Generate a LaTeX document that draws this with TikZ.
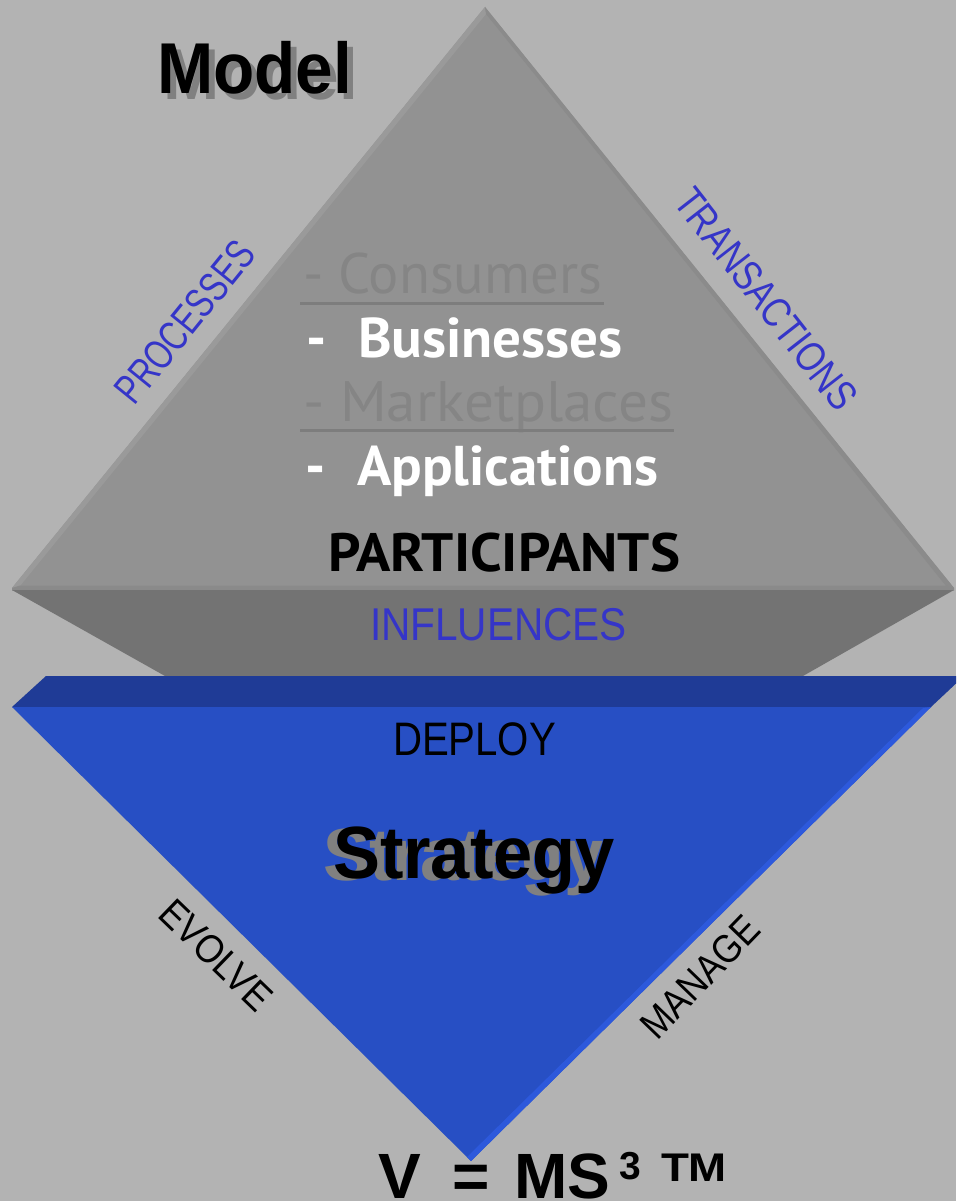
\documentclass[tikz,border=0pt]{standalone}
\usepackage{fontspec}
\setmainfont{Liberation Sans}
\newfontfamily\pts{PT Sans}
\newcommand{\fitw}[2]{\resizebox{#1}{\height}{#2}}
\definecolor{bg}{HTML}{B3B3B3}
\definecolor{tri}{HTML}{929292}
\definecolor{trilight}{HTML}{9A9A9A}
\definecolor{tridark}{HTML}{8B8B8B}
\definecolor{baseband}{HTML}{8A8A8A}
\definecolor{trap}{HTML}{737373}
\definecolor{slab}{HTML}{1F3B96}
\definecolor{bluetri}{HTML}{274FC4}
\definecolor{bluelight}{HTML}{2D59DC}
\definecolor{lblue}{HTML}{3535C8}
\definecolor{gtext}{HTML}{858585}
\definecolor{uline}{HTML}{7D7D7D}
\definecolor{shadow}{HTML}{808080}
\begin{document}
\begin{tikzpicture}[x=1pt,y=-1pt,
  txt/.style={inner sep=0pt, outer sep=0pt, anchor=base west},
  lbl/.style={inner sep=0pt, outer sep=0pt, anchor=center},
  underl/.style={draw=uline, line width=3pt}]
\useasboundingbox (0,0) rectangle (956,1201);
\fill[bg] (0,0) rectangle (956,1201);
\begin{scope}
\clip (0,0) rectangle (956,1201);
% upper triangle
\fill[tri] (12,588) -- (485,7) -- (954,588) -- cycle;
\fill[trilight] (12,588) -- (485,7) -- (486,14) -- (20,586) -- cycle;
\fill[tridark] (485,7) -- (954,588) -- (946,586) -- (486,14) -- cycle;
\fill[baseband] (12,588) -- (20,585.5) -- (946,585.5) -- (954,588) -- (954,590.5) -- (12,590.5) -- cycle;
% dark trapezoid
\fill[trap] (12,590) -- (954,590) -- (803,676) -- (165,676) -- cycle;
% blue slab
\fill[slab] (46,676) -- (964,676) -- (931,707) -- (12,707) -- cycle;
% blue inverted triangle
\fill[bluetri] (12,707) -- (931,707) -- (471,1161) -- cycle;
\fill[bluelight] (931,707) -- (471,1161) -- (467,1157) -- (923,708) -- cycle;
\end{scope}
% Model
\node[txt, text=shadow] (models) at (163,100) {\fontsize{72}{80}\selectfont\bfseries\fitw{195pt}{Model}};
\node[txt, text=black] (model) at (157,94) {\fontsize{72}{80}\selectfont\bfseries\fitw{195pt}{Model}};
% side labels
\node[lbl, rotate=51, text=lblue] (proc) at (185,322) {\fontsize{42}{44}\selectfont\fitw{195pt}{PROCESSES}};
\node[lbl, rotate=-52, text=lblue] (trans) at (766,299) {\fontsize{42}{44}\selectfont\fitw{268pt}{TRANSACTIONS}};
% participant list
\node[txt, text=gtext] (cons) at (303,293) {\pts\fontsize{57}{60}\selectfont\fitw{299pt}{- Consumers}};
\draw[underl] (300,303) -- (604,303);
\node[txt, text=white] (bdash) at (306,357) {\pts\bfseries\fontsize{56}{60}\selectfont -};
\node[txt, text=white] (bus) at (358,357) {\pts\bfseries\fontsize{56}{60}\selectfont\fitw{265pt}{Businesses}};
\node[txt, text=gtext] (mkt) at (303,421) {\pts\fontsize{57}{60}\selectfont\fitw{370pt}{- Marketplaces}};
\draw[underl] (300,430) -- (674,430);
\node[txt, text=white] (adash) at (305,485) {\pts\bfseries\fontsize{56}{60}\selectfont -};
\node[txt, text=white] (app) at (357,485) {\pts\bfseries\fontsize{56}{60}\selectfont\fitw{301pt}{Applications}};
\node[txt, text=black] (part) at (328,571) {\pts\bfseries\fontsize{54}{60}\selectfont\fitw{352pt}{PARTICIPANTS}};
\node[txt, text=lblue] (infl) at (370,640) {\fontsize{46}{50}\selectfont\fitw{257pt}{INFLUENCES}};
\node[txt, text=black] (depl) at (393,755) {\fontsize{47}{50}\selectfont\fitw{163pt}{DEPLOY}};
% Strategy
\node[txt, text=shadow] (strats) at (323,880) {\fontsize{74}{80}\selectfont\bfseries\fitw{280pt}{Strategy}};
\node[txt, text=black] (strat) at (333,878) {\fontsize{74}{80}\selectfont\bfseries\fitw{282pt}{Strategy}};
\node[lbl, rotate=-44, text=black] (evol) at (216,955) {\fontsize{40}{44}\selectfont\fitw{140pt}{EVOLVE}};
\node[lbl, rotate=46, text=black] (mana) at (700,977) {\fontsize{40}{44}\selectfont\fitw{152pt}{MANAGE}};
% formula
\node[txt] (v) at (378,1198) {\fontsize{64}{70}\selectfont\bfseries V};
\node[txt] (eq) at (452,1198) {\fontsize{64}{70}\selectfont\bfseries =};
\node[txt] (ms) at (514,1198) {\fontsize{64}{70}\selectfont\bfseries MS};
\node[txt] (three) at (619,1179) {\fontsize{39}{44}\selectfont\bfseries 3};
\node[txt] (tm) at (661,1181) {\fontsize{40}{44}\selectfont\bfseries\fitw{66pt}{TM}};
\end{tikzpicture}
\end{document}
